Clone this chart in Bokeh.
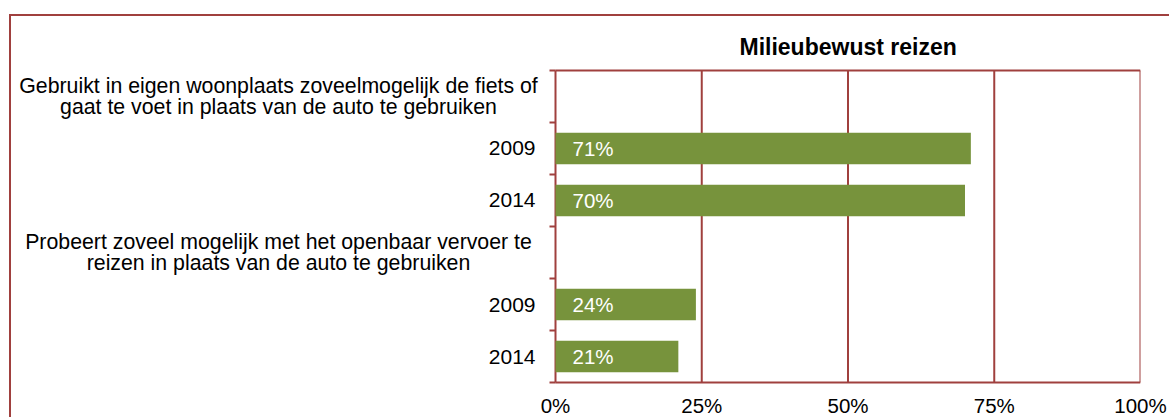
import math
from bokeh.plotting import figure
from bokeh.models import Range1d, FixedTicker, ColumnDataSource, LabelSet
from bokeh.core.properties import value
from bokeh.embed import file_html
from bokeh.resources import INLINE

title = "Milieubewust reizen"
row_labels = [
    "Gebruikt in eigen woonplaats zoveelmogelijk de fiets of\ngaat te voet in plaats van de auto te gebruiken",
    "2009",
    "2014",
    "Probeert zoveel mogelijk met het openbaar vervoer te\nreizen in plaats van de auto te gebruiken",
    "2009",
    "2014",
]
header_rows = [0, 3]
year_rows = [1, 2, 4, 5]
bar_rows = [1, 2, 4, 5]
bar_values = [71, 70, 24, 21]
bar_text = ["71%", "70%", "24%", "21%"]
x_ticks = [0, 25, 50, 75, 100]
x_tick_labels = ["0%", "25%", "50%", "75%", "100%"]

RED = "#A0403E"
GREEN = "#77933C"
FONT = "Liberation Sans"

# layout (canvas pixels)
CANVAS_W, CANVAS_H = 1160, 403
PLOT_LEFT, PLOT_W = 544, 585        # 0% .. 100% inside the frame
PLOT_TOP, PLOT_H = 54, 314
PAD = 2                              # px of frame kept around the box lines
LINE_H = 21                          # line spacing of the two-line headings

n = len(row_labels)
centers = [i + 0.5 for i in range(n)]
x_min, x_max = x_ticks[0], x_ticks[-1]
x_start = x_min - (x_max - x_min) * PLOT_LEFT / PLOT_W
y_pad = n * PAD / PLOT_H

p = figure(width=CANVAS_W, height=CANVAS_H, output_backend="svg", toolbar_location=None,
           x_range=Range1d(x_start, x_max), y_range=Range1d(n + y_pad, -y_pad),
           y_axis_location=None,
           min_border_left=0, min_border_right=CANVAS_W - PLOT_LEFT - PLOT_W,
           min_border_top=PLOT_TOP - PAD,
           min_border_bottom=CANVAS_H - PLOT_TOP - PLOT_H - PAD,
           title=title)
p.styles = {"border-left": f"2px solid {RED}", "border-top": f"2px solid {RED}",
            "margin-left": "9px", "margin-top": "14px"}

p.title.align = "left"
p.title.offset = 728
p.title.text_font = FONT
p.title.text_font_size = "23px"
p.title.text_font_style = "bold"
p.title.text_color = "black"
p.title.standoff = 17

p.outline_line_color = None
p.background_fill_color = "white"
p.border_fill_color = "white"
p.xgrid.visible = False
p.ygrid.visible = False

# x axis: labels only
p.xaxis.ticker = FixedTicker(ticks=x_ticks)
p.xaxis.major_label_overrides = {t: l for t, l in zip(x_ticks, x_tick_labels)}
p.xaxis.axis_line_color = None
p.xaxis.major_tick_out = 0
p.xaxis.major_tick_in = 0
p.xaxis.minor_tick_out = 0
p.xaxis.minor_tick_in = 0
p.xaxis.major_label_standoff = 9
p.xaxis.major_label_text_font = FONT
p.xaxis.major_label_text_font_size = "20.5px"
p.xaxis.major_label_text_color = "black"

# plot box: vertical grid lines (incl. axis at 0% and border at 100%)
p.segment(x0=x_ticks, x1=x_ticks, y0=[0] * len(x_ticks), y1=[n] * len(x_ticks),
          line_color=RED, line_width=2)
# top and bottom lines
p.segment(x0=[x_min, x_min], x1=[x_max, x_max], y0=[0, n], y1=[0, n],
          line_color=RED, line_width=2)
# category-boundary tick marks on the left axis
bounds = list(range(n + 1))
p.ray(x=[x_min] * len(bounds), y=bounds, length=6, length_units="screen",
      angle=math.pi, line_color=RED, line_width=2)

# bars
src = ColumnDataSource(dict(y=[centers[r] for r in bar_rows], v=bar_values, t=bar_text,
                            zero=[x_min] * len(bar_values)))
p.hbar(y="y", right="v", left=x_min, height=0.61, source=src,
       fill_color=GREEN, line_color=None)
p.add_layout(LabelSet(x="zero", y="y", text="t", source=src, x_offset=17,
                      text_align="left", text_baseline="middle", text_color="white",
                      text_font=value(FONT), text_font_size=value("20.5px")))

# year labels
p.text(x=[x_min] * len(year_rows), y=[centers[r] for r in year_rows],
       text=[row_labels[r] for r in year_rows], x_offset=-20,
       text_align="right", text_baseline="middle", text_color="black",
       text_font=value(FONT), text_font_size=value("21px"))

# group headings: each line centred on its own
hy, ht, hoff = [], [], []
for r in header_rows:
    lines = row_labels[r].split("\n")
    m = len(lines)
    for k, line in enumerate(lines):
        hy.append(centers[r])
        ht.append(line)
        hoff.append((k - (m - 1) / 2) * LINE_H)
p.text(x=[x_min] * len(hy), y=hy, text=ht, x_offset=-277, y_offset=hoff,
       text_align="center", text_baseline="middle", text_color="black",
       text_font=value(FONT), text_font_size=value("21.3px"))

open("out.html", "w").write(file_html(p, INLINE))
